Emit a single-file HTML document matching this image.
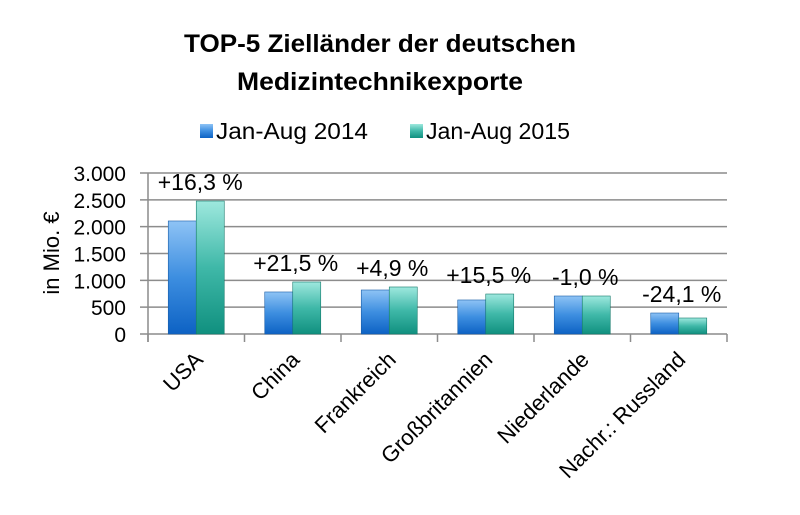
<!DOCTYPE html>
<html><head><meta charset="utf-8"><style>
html,body{margin:0;padding:0;background:#fff;}
svg{display:block;font-family:"Liberation Sans",sans-serif;}
</style></head><body>
<svg id="chart" width="800" height="515" viewBox="0 0 800 515">
<defs>
<linearGradient id="gBlue" x1="0" y1="0" x2="0" y2="1">
<stop offset="0" stop-color="#8ec3f5"/><stop offset="0.5" stop-color="#3d8ee0"/><stop offset="1" stop-color="#0d62c4"/>
</linearGradient>
<linearGradient id="gTeal" x1="0" y1="0" x2="0" y2="1">
<stop offset="0" stop-color="#9ee8de"/><stop offset="0.5" stop-color="#3fb8a8"/><stop offset="1" stop-color="#10907f"/>
</linearGradient>
</defs>
<text x="380" y="52" text-anchor="middle" font-size="25" font-weight="bold" textLength="392" lengthAdjust="spacingAndGlyphs">TOP-5 Zielländer der deutschen</text>
<text x="380" y="90" text-anchor="middle" font-size="25" font-weight="bold" textLength="286" lengthAdjust="spacingAndGlyphs">Medizintechnikexporte</text>
<g>
<rect x="200" y="124" width="13" height="14" fill="url(#gBlue)"/>
<text x="216" y="139" font-size="23" textLength="152" lengthAdjust="spacingAndGlyphs">Jan-Aug 2014</text>
<rect x="410" y="124" width="13" height="14" fill="url(#gTeal)"/>
<text x="426" y="139" font-size="23" textLength="144" lengthAdjust="spacingAndGlyphs">Jan-Aug 2015</text>
</g>
<text transform="translate(59,253) rotate(-90)" text-anchor="middle" font-size="22">in Mio. €</text>
<g id="grid"></g><g id="bars"></g><g id="labels"></g>
</svg>
<script>
const categories = ["USA","China","Frankreich","Großbritannien","Niederlande","Nachr.: Russland"];
const values2014 = [2106, 783, 820, 634, 708, 391];
const values2015 = [2478, 969, 876, 745, 708, 298];
const changeLabels = ["+16,3 %","+21,5 %","+4,9 %","+15,5 %","-1,0 %","-24,1 %"];
const yTicks = [0,500,1000,1500,2000,2500,3000];
const yTickLabels = ["0","500","1.000","1.500","2.000","2.500","3.000"];

const NS="http://www.w3.org/2000/svg";
const X0=148, X1=727, Y0=334, Y1=173, YMAX=3000;
const bw=(X1-X0)/categories.length;
const y=v=>Y0-(v/YMAX)*(Y0-Y1);
const xc=i=>X0+bw*(i+0.5);
function mk(tag,attrs,parent){const e=document.createElementNS(NS,tag);for(const k in attrs)e.setAttribute(k,attrs[k]);parent.appendChild(e);return e;}
const grid=document.getElementById('grid'), bars=document.getElementById('bars'), labels=document.getElementById('labels');
yTicks.forEach((t,i)=>{
  const l=mk('line',{x1:140,x2:X1,y1:y(t),y2:y(t),stroke:'#8c8c8c','stroke-width':1.5},grid);
  
  
  const tx=mk('text',{x:126,y:y(t)+8,'text-anchor':'end','font-size':21},grid);
  tx.textContent=yTickLabels[i];
  
  
});
const ax=mk('line',{x1:X0,x2:X0,y1:Y1,y2:Y0+8,stroke:'#8c8c8c','stroke-width':1.5},grid);


for(let i=0;i<=categories.length;i++){
  const t=mk('line',{x1:X0+bw*i,x2:X0+bw*i,y1:Y0,y2:Y0+8,stroke:'#8c8c8c','stroke-width':1.5},grid);
  
  
}
categories.forEach((c,i)=>{
  const cx=xc(i), w=28;
  const b1=mk('rect',{x:cx-w,y:y(values2014[i]),width:w,height:Y0-y(values2014[i]),fill:'url(#gBlue)',stroke:'#1a5ea8','stroke-width':0.6},bars);
  
  
  const b2=mk('rect',{x:cx,y:y(values2015[i]),width:w,height:Y0-y(values2015[i]),fill:'url(#gTeal)',stroke:'#157a6c','stroke-width':0.6},bars);
  
  
  const top=Math.min(y(values2014[i]),y(values2015[i]));
  const pl=mk('text',{x:cx+(i===0?4:3),y:top-11,'text-anchor':'middle','font-size':23},labels);
  pl.textContent=changeLabels[i];
  
  
  const cl=mk('text',{transform:`translate(${cx+8},361) rotate(-45)`,'text-anchor':'end','font-size':22},labels);
  cl.textContent=c;
  
  
});
</script>
</body></html>
